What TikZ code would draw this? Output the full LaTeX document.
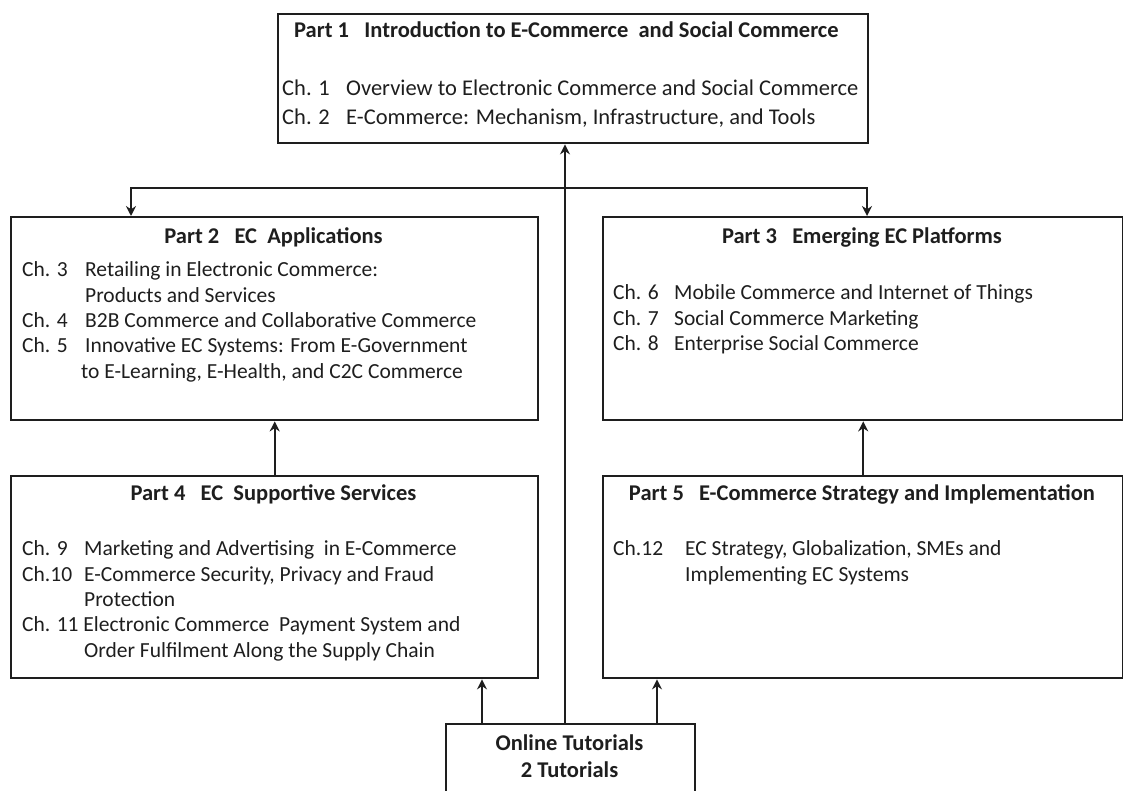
\documentclass[tikz,border=0pt]{standalone}
\usepackage{fontspec}
\setmainfont{Carlito}
\usetikzlibrary{arrows.meta}
\definecolor{ink}{HTML}{1E1E1E}
\begin{document}
\begin{tikzpicture}[x=1pt,y=-1pt,
  partbox/.style={draw=ink,line width=2.4pt,anchor=north west,inner sep=0pt},
  title/.style={anchor=base,inner sep=0pt,text=ink,font=\fontsize{22.5}{27}\selectfont\bfseries},
  chlist/.style={anchor=north west,inner sep=0pt,text=ink,font=\fontsize{21.5}{25.3}\selectfont},
  bigchlist/.style={chlist,font=\fontsize{22.5}{25.3}\selectfont},
  conn/.style={draw=ink,line width=1.8pt},
  arr/.style={conn,-{Stealth[length=10pt,width=10pt]}},
  biarr/.style={conn,{Stealth[length=10pt,width=10pt]}-{Stealth[length=10pt,width=10pt]}}
]
\useasboundingbox (0,0) rectangle (1123,791);

% the six boxes
\node[partbox,minimum width=590pt,minimum height=129pt] (p1) at (277,13) {};
\node[partbox,minimum width=527pt,minimum height=203pt] (p2) at (10,216) {};
\node[partbox,minimum width=520pt,minimum height=203pt] (p3) at (602,216) {};
\node[partbox,minimum width=527pt,minimum height=202pt] (p4) at (10,475) {};
\node[partbox,minimum width=520pt,minimum height=202pt] (p5) at (602,475) {};
\node[partbox,minimum width=249pt,minimum height=90pt] (tut) at (445,723) {};

% Part 1
\node[title,anchor=base west] (p1t) at (294,38) {Part 1\ \ \ Introduction to E-Commerce\ \ and Social Commerce};
\node[bigchlist] (p1c) at (282,78) {%
\begin{tabular}{@{}p{64pt}@{}l@{}}
Ch. 1 & Overview to Electronic Commerce and Social Commerce\\[3pt]
Ch. 2 & E-Commerce: Mechanism, Infrastructure, and Tools
\end{tabular}};

% Part 2
\node[title] (p2t) at (273.5,244) {Part 2\ \ \ EC\ \ Applications};
\node[chlist] (p2c) at (22,259) {%
\begin{tabular}{@{}p{63pt}@{}l@{}}
Ch. 3 & Retailing in Electronic Commerce:\\
      & Products and Services\\
Ch. 4 & B2B Commerce and Collaborative Commerce\\
Ch. 5 & Innovative EC Systems: From E-Government\\
      & \hspace*{-4pt}to E-Learning, E-Health, and C2C Commerce
\end{tabular}};

% Part 3
\node[title] (p3t) at (862,244) {Part 3\ \ \ Emerging EC Platforms};
\node[chlist] (p3c) at (613,282) {%
\begin{tabular}{@{}p{61pt}@{}l@{}}
Ch. 6 & Mobile Commerce and Internet of Things\\
Ch. 7 & Social Commerce Marketing\\
Ch. 8 & Enterprise Social Commerce
\end{tabular}};

% Part 4
\node[title] (p4t) at (273.5,500) {Part 4\ \ \ EC\ \ Supportive Services};
\node[chlist] (p4c) at (22,538) {%
\begin{tabular}{@{}p{62pt}@{}l@{}}
Ch. 9 & Marketing and Advertising\ \ in E-Commerce\\
Ch.10 & E-Commerce Security, Privacy and Fraud\\
      & Protection\\
\multicolumn{2}{@{}l@{}}{Ch. 11 Electronic Commerce\ \ Payment System and}\\
      & Order Fulfilment Along the Supply Chain
\end{tabular}};

% Part 5
\node[title] (p5t) at (862,500) {Part 5\ \ \ E-Commerce Strategy and Implementation};
\node[chlist] (p5c) at (613,538) {%
\begin{tabular}{@{}p{72pt}@{}l@{}}
Ch.12 & EC Strategy, Globalization, SMEs and\\
      & Implementing EC Systems
\end{tabular}};

% online tutorials
\node[title,align=center,anchor=north] (tutt) at (569.5,735) {Online Tutorials\\2 Tutorials};

% connector positions
\coordinate (a4) at (482,0);
\coordinate (a5) at (657,0);
\coordinate (mid) at (565,0);
\coordinate (jl) at (131,188);
\coordinate (jr) at (867,188);

\draw[arr] (tut.north -| a4) -- (p4.south -| a4);
\draw[arr] (tut.north -| a5) -- (p5.south -| a5);
\draw[arr] (tut.north -| mid) -- (p1.south -| mid);
\draw[biarr] (p2.north -| jl) -- (jl) -- (jr) -- (p3.north -| jr);
\draw[arr] (p4.north) -- (p2.south);
\draw[arr] (p5.north) -- (p3.south);
\end{tikzpicture}
\end{document}
